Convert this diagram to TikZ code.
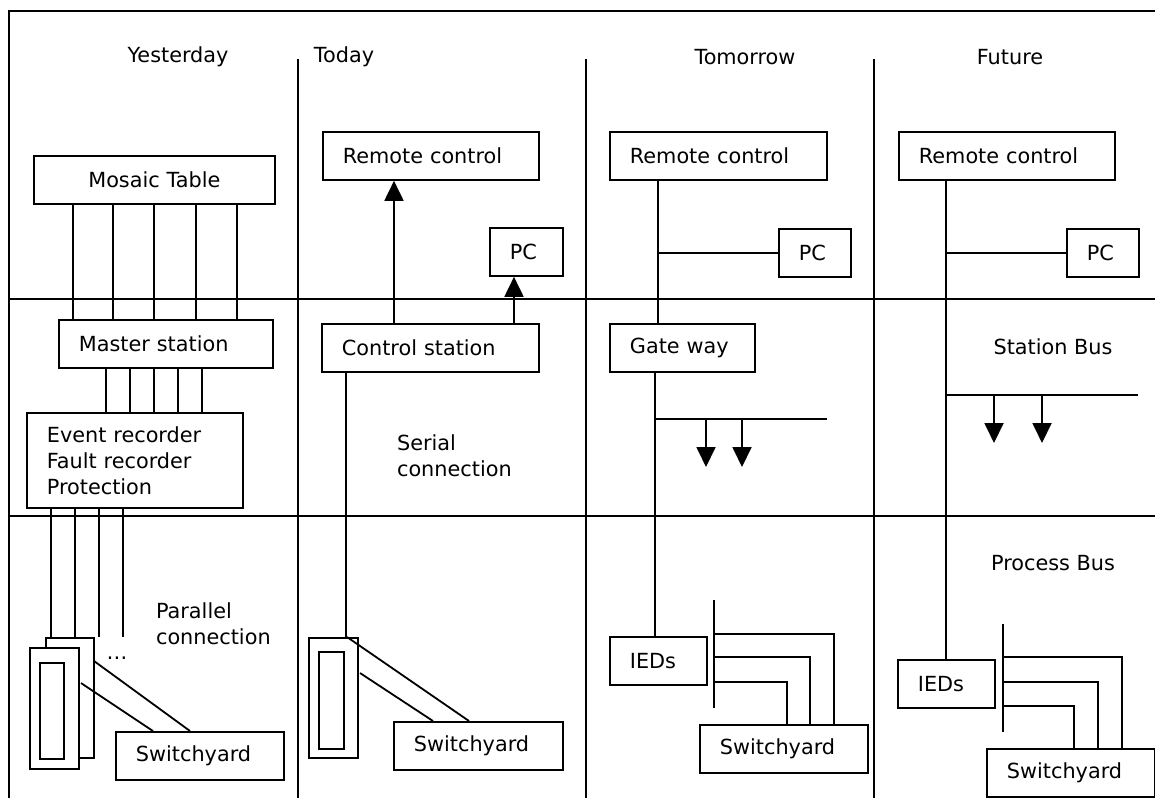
\documentclass[tikz,border=0pt]{standalone}
\usepackage{fontspec}
\setmainfont{DejaVu Sans}
\usetikzlibrary{arrows.meta, calc}

\begin{document}
\begin{tikzpicture}[
    x=0.5pt, y=-0.5pt,
    font=\fontsize{10.4}{13}\selectfont,
    frame/.style={line width=0.9pt},
    wire/.style={line width=0.9pt},
    box/.style={draw, line width=0.9pt, fill=white, anchor=north west, minimum height=24pt, inner xsep=10pt, inner ysep=0pt, align=left},
    relay/.style={draw, line width=0.9pt, fill=white, anchor=north west, inner sep=0pt},
    note/.style={anchor=west, align=left},
    arrow/.style={line width=0.9pt, -{Triangle[length=10pt, width=9.5pt]}}
]
    \useasboundingbox (0,0) rectangle (1155,798);

    % Frame and columns
    \draw[frame] (1155,11) -- (9,11) -- (9,798);
    \draw[frame] (9,299) -- (1155,299);
    \draw[frame] (9,516) -- (1155,516);
    \draw[frame] (298,59) -- (298,798);
    \draw[frame] (586,59) -- (586,798);
    \draw[frame] (874,59) -- (874,798);

    % Titles
    \node (yest) at (178,57) {Yesterday};
    \node (today) at (344,57) {Today};
    \node (tomo) at (745,57) {Tomorrow};
    \node (fut) at (1010,57) {Future};

    % Yesterday
    \node[box, text width=100.5pt, align=center] (mosaic) at (33,155) {Mosaic Table};
    \node[box, text width=87pt] (master) at (58,319) {Master station};
    \node[box, text width=88pt, minimum height=47.5pt] (event) at (26,412) {Event recorder\\Fault recorder\\Protection};
    \node[relay, minimum width=24pt, minimum height=60pt] (relB) at (45,637) {};
    \node[relay, minimum width=24.5pt, minimum height=60.5pt] (relA) at (29,647) {};
    \node[relay, minimum width=12pt, minimum height=48pt] (relAi) at (39,662) {};
    \node[box, text width=64pt] (swY) at (115,731) {Switchyard};
    \node (dots) at (117,658) {\dots};
    \node[note] (parallel) at (149,624) {Parallel\\connection};

    \foreach \x in {73,113,154,196,237} {
        \coordinate (g) at (\x,0);
        \draw[wire] (g |- mosaic.south) -- (g |- master.north);
    }
    \foreach \x in {106,130,154,178,202} {
        \coordinate (g) at (\x,0);
        \draw[wire] (g |- master.south) -- (g |- event.north);
    }
    \foreach \x in {51,75,99,123} {
        \coordinate (g) at (\x,0);
        \draw[wire] (g |- event.south) -- (g |- relB.north);
    }
    \coordinate (dY1) at (94,661);
    \coordinate (dY2) at (81,683);
    \draw[wire] (dY1) -- ($(swY.north west)+(75,0)$);
    \draw[wire] (dY2) -- ($(swY.north west)+(38,0)$);

    % Today
    \node[box, text width=88pt] (rcT) at (322,131) {Remote control};
    \node[box, text width=16.5pt] (pcT) at (489,227) {PC};
    \node[box, text width=88.5pt] (cs) at (321,323) {Control station};
    \node[relay, minimum width=24.5pt, minimum height=60pt] (relT) at (308,637) {};
    \node[relay, minimum width=12.5pt, minimum height=48.5pt] (relTi) at (318,651) {};
    \node[box, text width=64.5pt] (swT) at (393,721) {Switchyard};
    \node[note] (serial) at (390,456) {Serial\\connection};

    \coordinate (g) at (394,0);
    \draw[arrow] (g |- cs.north) -- (g |- rcT.south);
    \coordinate (g) at (514,0);
    \draw[arrow] (g |- cs.north) -- (g |- pcT.south);
    \coordinate (g) at (346,0);
    \draw[wire] (g |- cs.south) -- (g |- relT.north);
    \coordinate (dT1) at (347,637);
    \coordinate (dT2) at (360,673);
    \draw[wire] (dT1) -- ($(swT.north west)+(76,0)$);
    \draw[wire] (dT2) -- ($(swT.north west)+(40,0)$);

    % Tomorrow
    \node[box, text width=88.5pt] (rcTm) at (609,131) {Remote control};
    \node[box, text width=16pt] (pcTm) at (778,228) {PC};
    \node[box, text width=52.5pt] (gwTm) at (609,323) {Gate way};
    \node[box, text width=28.5pt] (iedTm) at (609,636) {IEDs};
    \node[box, text width=64pt] (swTm) at (699,724) {Switchyard};

    \coordinate (g) at (658,0);
    \draw[wire] (g |- rcTm.south) -- (g |- gwTm.north);
    \draw[wire] (g |- pcTm.west) -- (pcTm.west);
    \coordinate (g) at (655,0);
    \draw[wire] (g |- gwTm.south) -- (g |- iedTm.north);
    \coordinate (sbTm) at (655,419);
    \draw[wire] (sbTm) -- ++(172,0);
    \foreach \dx in {51,87}
        \draw[arrow] ($(sbTm)+(\dx,0)$) -- ++(0,48);
    \coordinate (pbTm) at (714,600);
    \draw[wire] (pbTm) -- ++(0,108);
    \draw[wire] ($(pbTm)+(0,34)$) -| ($(swTm.north west)+(135,0)$);
    \draw[wire] ($(pbTm)+(0,57)$) -| ($(swTm.north west)+(111,0)$);
    \draw[wire] ($(pbTm)+(0,82)$) -| ($(swTm.north west)+(88,0)$);

    % Future
    \node[box, text width=88pt] (rcF) at (898,131) {Remote control};
    \node[box, text width=16pt] (pcF) at (1066,228) {PC};
    \node (stbus) at (1053,347) {Station Bus};
    \node (prbus) at (1053,563) {Process Bus};
    \node[box, text width=28.5pt] (iedF) at (897,659) {IEDs};
    \node[box, text width=64pt] (swF) at (986,748) {Switchyard};

    \coordinate (g) at (946,0);
    \draw[wire] (g |- rcF.south) -- (g |- iedF.north);
    \draw[wire] (g |- pcF.west) -- (pcF.west);
    \coordinate (sbF) at (946,395);
    \draw[wire] (sbF) -- ++(192,0);
    \foreach \dx in {48,96}
        \draw[arrow] ($(sbF)+(\dx,0)$) -- ++(0,48);
    \coordinate (pbF) at (1003,624);
    \draw[wire] (pbF) -- ++(0,108);
    \draw[wire] ($(pbF)+(0,33)$) -| ($(swF.north west)+(136,0)$);
    \draw[wire] ($(pbF)+(0,58)$) -| ($(swF.north west)+(112,0)$);
    \draw[wire] ($(pbF)+(0,82)$) -| ($(swF.north west)+(88,0)$);
\end{tikzpicture}
\end{document}
